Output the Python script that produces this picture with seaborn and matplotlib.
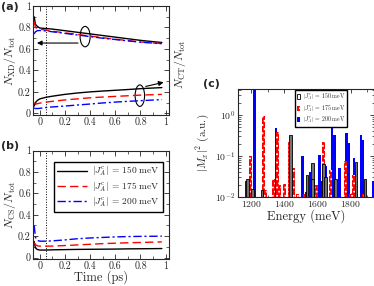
import seaborn as sns
import matplotlib.pyplot as plt
from matplotlib.patches import Ellipse, Patch
from matplotlib.ticker import MultipleLocator, LogLocator, NullFormatter, FuncFormatter

# ---- panel (a) / (b): populations vs time ----
time_ps = [-0.045, -0.035, -0.02, 0.0, 0.05, 0.1, 0.2, 0.3, 0.4, 0.5, 0.6, 0.7, 0.8, 0.9, 0.97]

xd_150 = [0.90, 0.83, 0.81, 0.795, 0.79, 0.785, 0.77, 0.755, 0.74, 0.725, 0.71, 0.695, 0.68, 0.668, 0.66]
xd_175 = [0.86, 0.80, 0.79, 0.785, 0.775, 0.765, 0.75, 0.735, 0.72, 0.705, 0.69, 0.678, 0.665, 0.656, 0.65]
xd_200 = [0.74, 0.76, 0.77, 0.772, 0.768, 0.76, 0.745, 0.73, 0.715, 0.70, 0.688, 0.675, 0.663, 0.655, 0.65]

ct_150 = [0.068, 0.10, 0.12, 0.135, 0.15, 0.16, 0.177, 0.19, 0.20, 0.208, 0.215, 0.222, 0.23, 0.236, 0.24]
ct_175 = [0.10, 0.085, 0.09, 0.095, 0.105, 0.112, 0.125, 0.135, 0.145, 0.152, 0.158, 0.164, 0.17, 0.174, 0.177]
ct_200 = [0.05, 0.045, 0.045, 0.047, 0.055, 0.06, 0.068, 0.078, 0.087, 0.097, 0.105, 0.112, 0.118, 0.124, 0.128]

cs_150 = [0.15, 0.09, 0.075, 0.07, 0.07, 0.072, 0.074, 0.076, 0.077, 0.078, 0.079, 0.081, 0.082, 0.083, 0.084]
cs_175 = [0.14, 0.12, 0.11, 0.106, 0.106, 0.107, 0.112, 0.118, 0.124, 0.13, 0.134, 0.138, 0.141, 0.144, 0.146]
cs_200 = [0.30, 0.19, 0.16, 0.153, 0.153, 0.156, 0.165, 0.176, 0.183, 0.188, 0.193, 0.196, 0.198, 0.199, 0.20]

labels = [r"$|J_A^{\rm c}|$ = 150 meV", r"$|J_A^{\rm c}|$ = 175 meV", r"$|J_A^{\rm c}|$ = 200 meV"]

# ---- panel (c): transition strengths ----
e_150 = [1168, 1180, 1210, 1265, 1436, 1537, 1570, 1568, 1636, 1648, 1709, 1832, 1885]
m_150 = [0.024, 0.027, 0.016, 0.015, 0.32, 0.034, 0.068, 0.028, 0.065, 0.03, 0.028, 0.07, 0.028]
e_175 = [1198, 1275, 1287, 1335, 1360, 1370, 1400, 1428, 1455, 1481, 1519, 1592, 1634, 1677,
         1768, 1798, 1816, 1877]
m_175 = [0.1, 0.93, 0.015, 0.028, 0.38, 0.02, 0.021, 0.22, 0.05, 0.012, 0.012, 0.02, 0.22, 0.045,
         0.077, 0.012, 0.035, 0.012]
e_200 = [1222, 1350, 1511, 1533, 1555, 1610, 1616, 1647, 1687, 1703, 1733, 1776, 1786, 1820,
         1861, 1871, 1933]
m_200 = [5.0, 0.47, 0.1, 0.0135, 0.041, 0.108, 0.024, 0.058, 0.56, 0.33, 0.05, 0.36, 0.21, 0.087,
         0.33, 0.24, 0.025]

sns.set_style("ticks")
plt.rcParams['font.family'] = ['cmr10', 'DejaVu Serif']
plt.rcParams['mathtext.fontset'] = 'cm'
plt.rcParams['axes.formatter.use_mathtext'] = True
plt.rcParams['axes.unicode_minus'] = False
plt.rcParams['xtick.direction'] = 'in'
plt.rcParams['ytick.direction'] = 'in'
plt.rcParams['xtick.top'] = True
plt.rcParams['ytick.right'] = True
plt.rcParams['axes.linewidth'] = 0.8
plt.rcParams['hatch.linewidth'] = 0.8

fig = plt.figure(figsize=(3.74, 2.86), dpi=100)
ax_a = fig.add_axes([0.088, 0.598, 0.365, 0.381])
ax_b = fig.add_axes([0.088, 0.094, 0.365, 0.379])
ax_c = fig.add_axes([0.636, 0.311, 0.364, 0.378])

colors = ['black', 'red', 'blue']
styles = ['-', (0, (6, 3)), (0, (6, 2, 1.5, 2))]
fmt = FuncFormatter(lambda v, p: f"{v:g}")

for ax in (ax_a, ax_b):
    ax.set_xlim(-0.055, 1.03)
    ax.set_ylim(-0.015, 1.0)
    ax.xaxis.set_major_locator(MultipleLocator(0.2))
    ax.xaxis.set_minor_locator(MultipleLocator(0.1))
    ax.yaxis.set_major_locator(MultipleLocator(0.2))
    ax.yaxis.set_minor_locator(MultipleLocator(0.1))
    ax.xaxis.set_major_formatter(fmt)
    ax.yaxis.set_major_formatter(fmt)
    ax.tick_params(which='both', direction='in', top=True, right=True, labelsize=7.2, pad=1.5)
    ax.tick_params(which='major', length=3.5, width=0.6)
    ax.tick_params(which='minor', length=2, width=0.5)
    ax.axvline(0.05, color='black', linestyle=':', lw=0.7)

for xd, ct, c, ls in zip([xd_150, xd_175, xd_200], [ct_150, ct_175, ct_200], colors, styles):
    sns.lineplot(x=time_ps, y=xd, ax=ax_a, color=c, linestyle=ls, lw=1.0)
    sns.lineplot(x=time_ps, y=ct, ax=ax_a, color=c, linestyle=ls, lw=1.0)

ax_a.add_patch(Ellipse((0.36, 0.715), 0.08, 0.19, fill=False, color='black', lw=0.8))
ax_a.add_patch(Ellipse((0.795, 0.165), 0.075, 0.20, fill=False, color='black', lw=0.8))
ax_a.annotate("", xy=(-0.045, 0.655), xytext=(0.325, 0.655),
              arrowprops=dict(arrowstyle='-|>', color='black', lw=0.8, mutation_scale=7))
ax_a.annotate("", xy=(1.005, 0.295), xytext=(0.82, 0.245),
              arrowprops=dict(arrowstyle='-|>', color='black', lw=0.8, mutation_scale=7))
ax_a.set_xlabel("")
ax_a.set_ylabel(r"$N_{\rm XD}/N_{\rm tot}$", fontsize=8.5)
ax_a.yaxis.set_label_coords(-0.11, 0.5)
fig.text(0.482, 0.775, r"$N_{\rm CT}/N_{\rm tot}$", rotation=90, fontsize=8.5,
         ha='center', va='center')

for cs, c, ls, lab in zip([cs_150, cs_175, cs_200], colors, styles, labels):
    sns.lineplot(x=time_ps, y=cs, ax=ax_b, color=c, linestyle=ls, lw=1.0, label=lab)
ax_b.set_xlabel("Time (ps)", fontsize=9, labelpad=0)
ax_b.set_ylabel(r"$N_{\rm CS}/N_{\rm tot}$", fontsize=8.5)
ax_b.yaxis.set_label_coords(-0.11, 0.5)
ax_b.legend(loc='upper left', bbox_to_anchor=(0.155, 0.895), fontsize=6.8, frameon=True,
            fancybox=False, edgecolor='black', framealpha=1, handlelength=3.2,
            borderpad=0.3, labelspacing=0.2, handletextpad=0.5, borderaxespad=0)

# panel (c)
ax_c.set_yscale('log')
w = 16
ax_c.bar(e_200, m_200, width=w, color='blue', lw=0)
ax_c.bar(e_175, m_175, width=w, color='red', edgecolor='white', hatch='....', lw=0)
ax_c.bar(e_150, m_150, width=w, color='0.45', edgecolor='black', lw=0.6)
ax_c.set_xlim(1120, 1940)
ax_c.set_ylim(1e-2, 4.3)
ax_c.xaxis.set_major_locator(MultipleLocator(200))
ax_c.xaxis.set_minor_locator(MultipleLocator(100))
ax_c.yaxis.set_major_locator(LogLocator(base=10))
ax_c.yaxis.set_minor_locator(LogLocator(base=10, subs=range(2, 10)))
ax_c.yaxis.set_minor_formatter(NullFormatter())
ax_c.tick_params(which='both', direction='in', top=True, right=True, labelsize=7, pad=1.5)
ax_c.tick_params(which='major', length=3, width=0.6)
ax_c.tick_params(which='minor', length=1.8, width=0.5)
ax_c.set_xlabel("Energy (meV)", fontsize=9, labelpad=0)
ax_c.set_ylabel(r"$|M_x|^2$ (a.u.)", fontsize=8)
ax_c.yaxis.set_label_coords(-0.2, 0.5)
handles = [Patch(facecolor='white', edgecolor='black', lw=0.6),
           Patch(facecolor='red', edgecolor='white', hatch='....', lw=0),
           Patch(facecolor='blue', lw=0)]
ax_c.legend(handles, labels, loc='upper left', bbox_to_anchor=(0.42, 0.99), fontsize=4.2,
            frameon=True, fancybox=False, edgecolor='black', framealpha=1, handlelength=0.6,
            handleheight=1.0, borderpad=0.3, labelspacing=0.15, handletextpad=0.4,
            borderaxespad=0)

for txt, x, y in [("(a)", 0.003, 0.975), ("(b)", 0.003, 0.49), ("(c)", 0.543, 0.706)]:
    fig.text(x, y, txt, fontsize=8, fontweight='bold', family='DejaVu Sans',
             ha='left', va='center')

fig.savefig("out.png", dpi=100)
